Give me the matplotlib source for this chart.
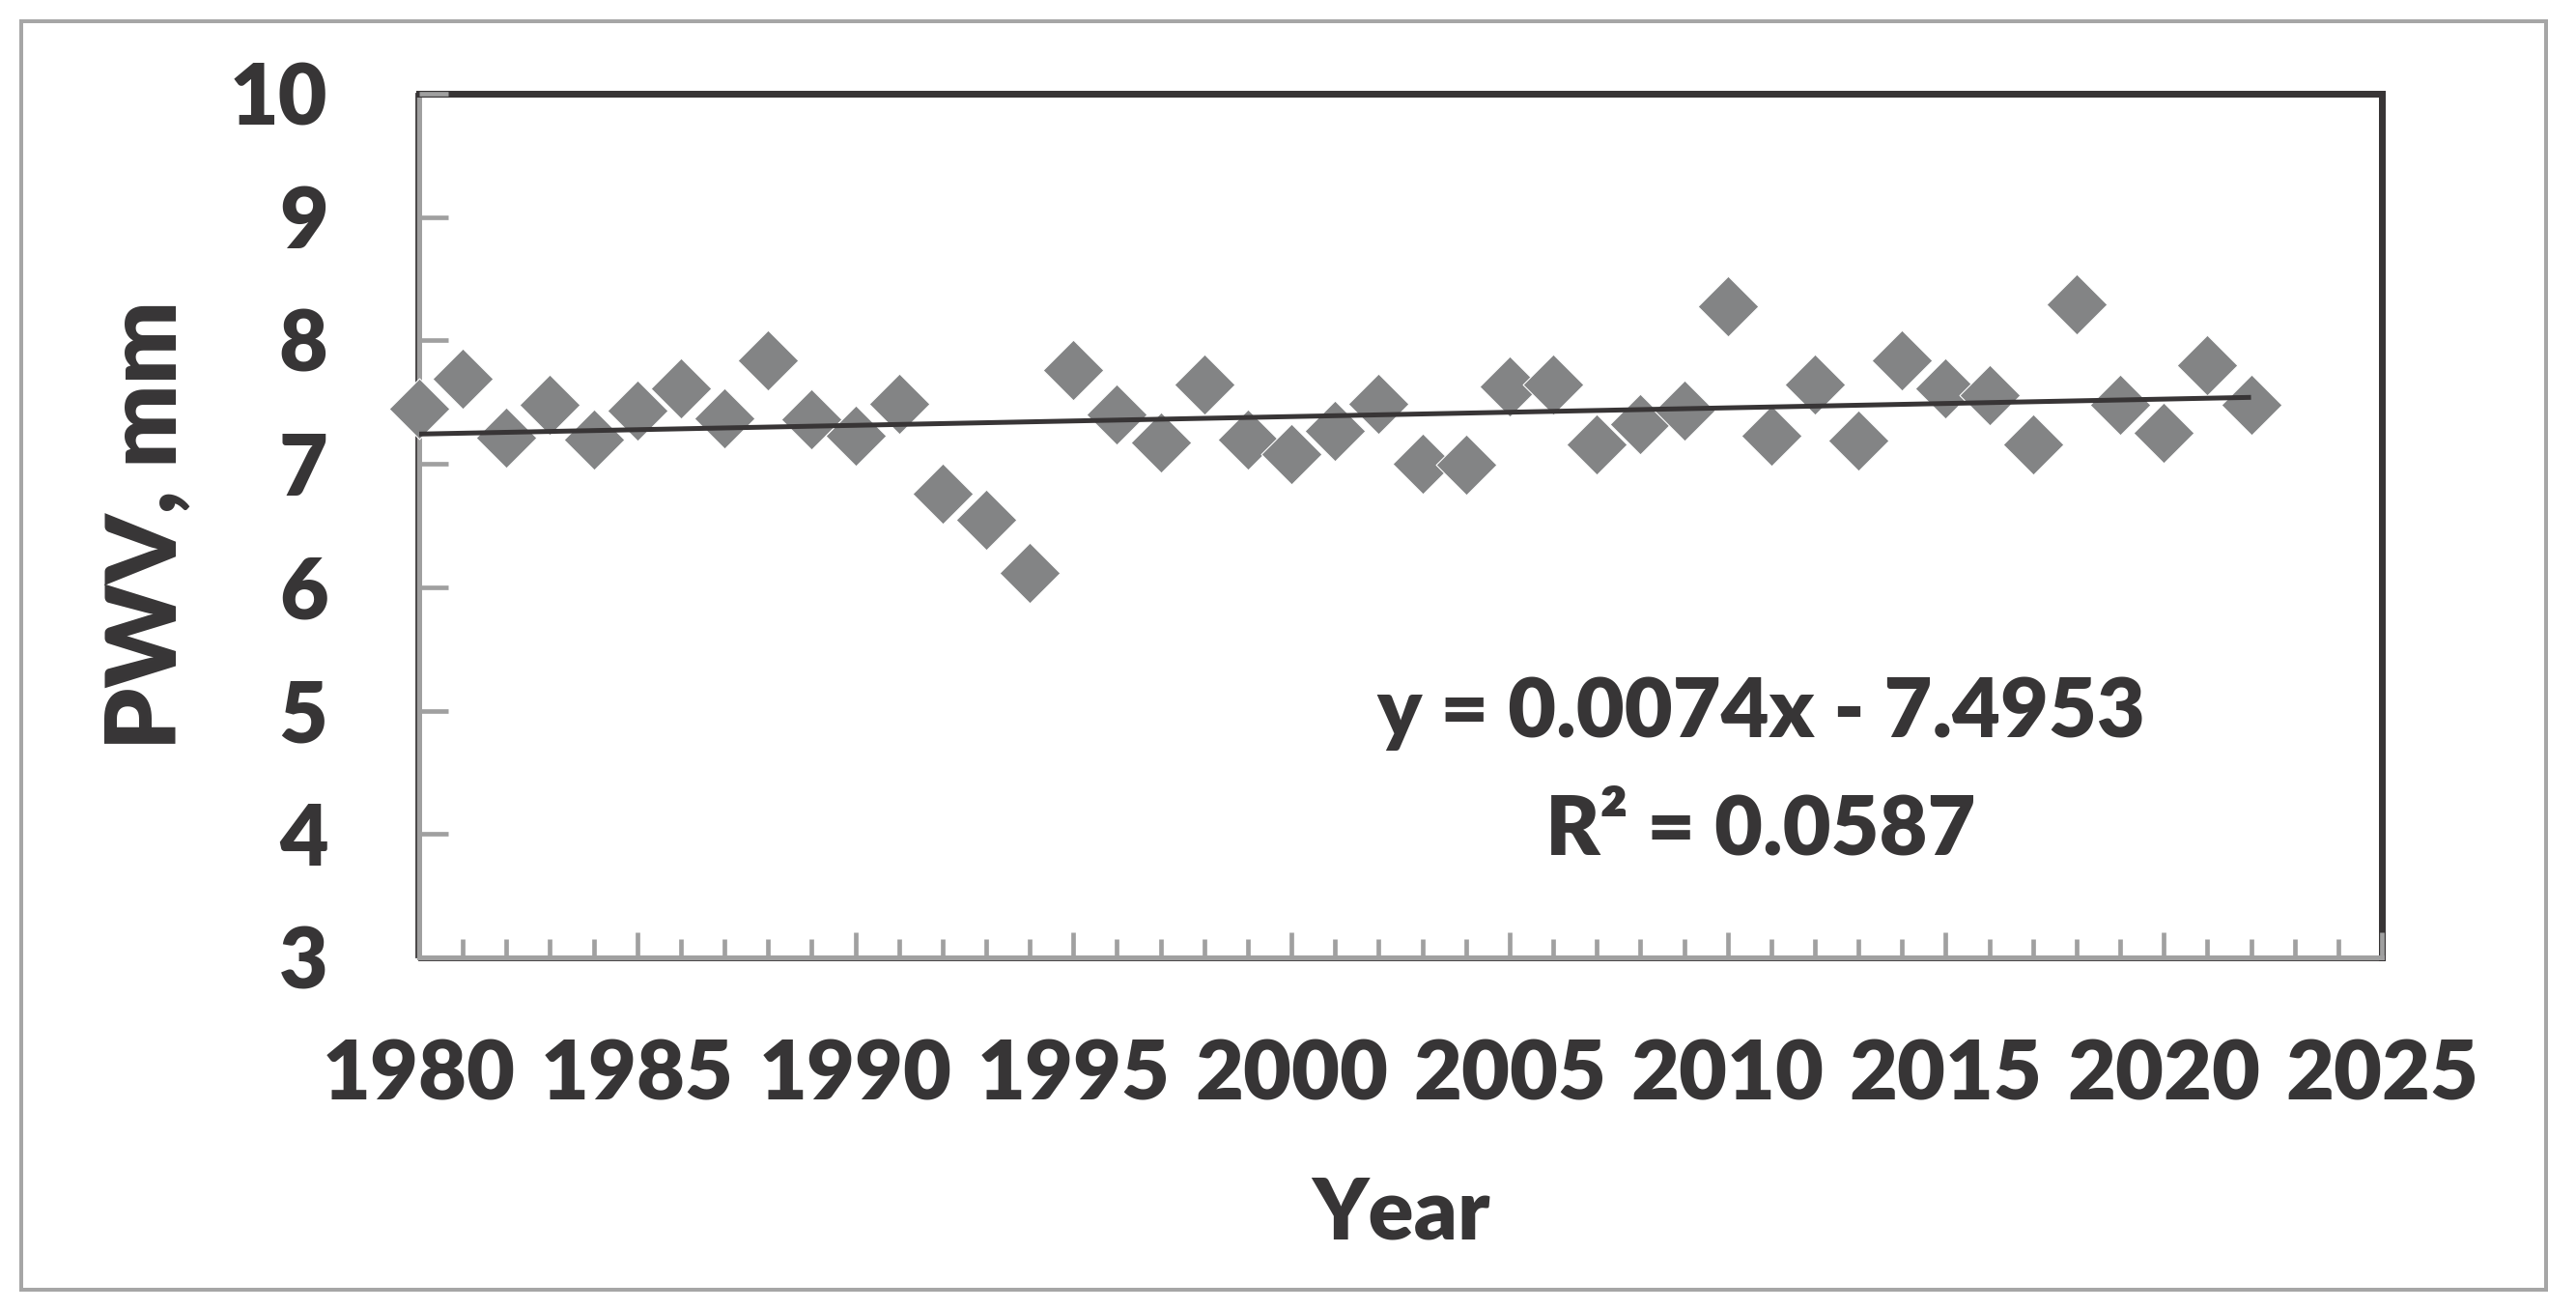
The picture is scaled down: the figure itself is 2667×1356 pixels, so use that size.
import numpy as np
import matplotlib
matplotlib.use("Agg")
import matplotlib.pyplot as plt
from matplotlib.ticker import MultipleLocator
from matplotlib.lines import Line2D
from matplotlib.patches import Rectangle
import matplotlib.transforms as mtransforms

# ---- data ----
years = list(range(1980, 2023))
pwv = [7.45, 7.69, 7.21, 7.48, 7.20, 7.43, 7.61, 7.37, 7.84, 7.36,
       7.23, 7.49, 6.76, 6.55, 6.12, 7.76, 7.40, 7.17, 7.64, 7.20,
       7.08, 7.27, 7.49, 7.00, 6.99, 7.63, 7.64, 7.16, 7.32, 7.43,
       8.28, 7.23, 7.64, 7.19, 7.84, 7.61, 7.56, 7.16, 8.29, 7.48,
       7.25, 7.80, 7.48]
eq_text = "y = 0.0074x - 7.4953"
r2_text = "R\u00b2 = 0.0587"
x_label = "Year"
y_label = "PWV, mm"
x_limits = (1980, 2025)
y_limits = (3, 10)

W = 'heavy'
plt.rcParams['font.family'] = ['Lato', 'DejaVu Sans']
plt.rcParams['font.weight'] = W

TXT = '#373536'
GRAY = '#a0a0a0'
DARK = '#383536'
MARK = '#838485'
PX = 0.72  # points per pixel at dpi 100

fig = plt.figure(figsize=(26.67, 13.56), dpi=100)
ax = fig.add_axes([434 / 2667, 365 / 1356, 2032 / 2667, 894 / 1356])

x = np.array(years, dtype=float)
y = np.array(pwv)
ax.scatter(x, y, marker='D', s=32 ** 2, color=MARK, edgecolor='white',
           linewidth=0.8, zorder=3, clip_on=False)

coef = np.polyfit(x, y, 1)
xf = np.array([x.min(), x.max()])
ax.plot(xf, np.polyval(coef, xf), color=DARK, lw=5 * PX, zorder=4,
        solid_capstyle='butt')

ax.set_xlim(*x_limits)
ax.set_ylim(*y_limits)
ax.xaxis.set_major_locator(MultipleLocator(5))
ax.xaxis.set_minor_locator(MultipleLocator(1))
ax.yaxis.set_major_locator(MultipleLocator(1))

ax.tick_params(axis='x', which='major', direction='in', length=26 * PX,
               width=4.7 * PX, color=GRAY, pad=60, labelsize=62,
               labelcolor=TXT)
ax.tick_params(axis='x', which='minor', direction='in', length=19 * PX,
               width=4.7 * PX, color=GRAY)
ax.tick_params(axis='y', which='major', direction='in', length=30 * PX,
               width=4.7 * PX, color=GRAY, pad=68, labelsize=63,
               labelcolor=TXT)
for lab in ax.get_xticklabels() + ax.get_yticklabels():
    lab.set_fontweight(W)
ax.xaxis.set_zorder(2.6)
ax.yaxis.set_zorder(2.6)

for s in ('top', 'right'):
    ax.spines[s].set_color(DARK)
    ax.spines[s].set_linewidth(7 * PX)
for s in ('left', 'bottom'):
    ax.spines[s].set_color(GRAY)
    ax.spines[s].set_linewidth(5 * PX)

# thin dark outline on the outer side of the gray left/bottom spines
offL = mtransforms.ScaledTranslation(-3.2 / 100, 0, fig.dpi_scale_trans)
offB = mtransforms.ScaledTranslation(0, -3.2 / 100, fig.dpi_scale_trans)
ax.add_line(Line2D([0, 0], [0, 1.0], transform=ax.transAxes + offL,
                   color=DARK, lw=1.8 * PX, clip_on=False, zorder=2.4))
ax.add_line(Line2D([0, 1.0], [0, 0], transform=ax.transAxes + offB,
                   color=DARK, lw=1.8 * PX, clip_on=False, zorder=2.4))

ax.set_xlabel(x_label, fontsize=63, fontweight=W, color=TXT,
              va='baseline')
ax.xaxis.set_label_coords(0.5, -0.3266)
ax.set_ylabel(y_label, fontsize=73, fontweight=W, color=TXT,
              va='baseline')
ax.yaxis.set_label_coords(-0.1235, 0.5)

ax.text(0.6836, 0.255, eq_text, transform=ax.transAxes, ha='center',
        va='baseline', fontsize=62, fontweight=W, color=TXT)
ax.text(0.6836, 0.1186, r2_text, transform=ax.transAxes, ha='center',
        va='baseline', fontsize=62, fontweight=W, color=TXT)

fig.patches.append(Rectangle((22 / 2667, 21 / 1356), 2614 / 2667,
                             1313 / 1356, transform=fig.transFigure,
                             fill=False, edgecolor='#a6a6a6',
                             linewidth=4 * PX))

fig.savefig('out.png', dpi=100, facecolor='white')
